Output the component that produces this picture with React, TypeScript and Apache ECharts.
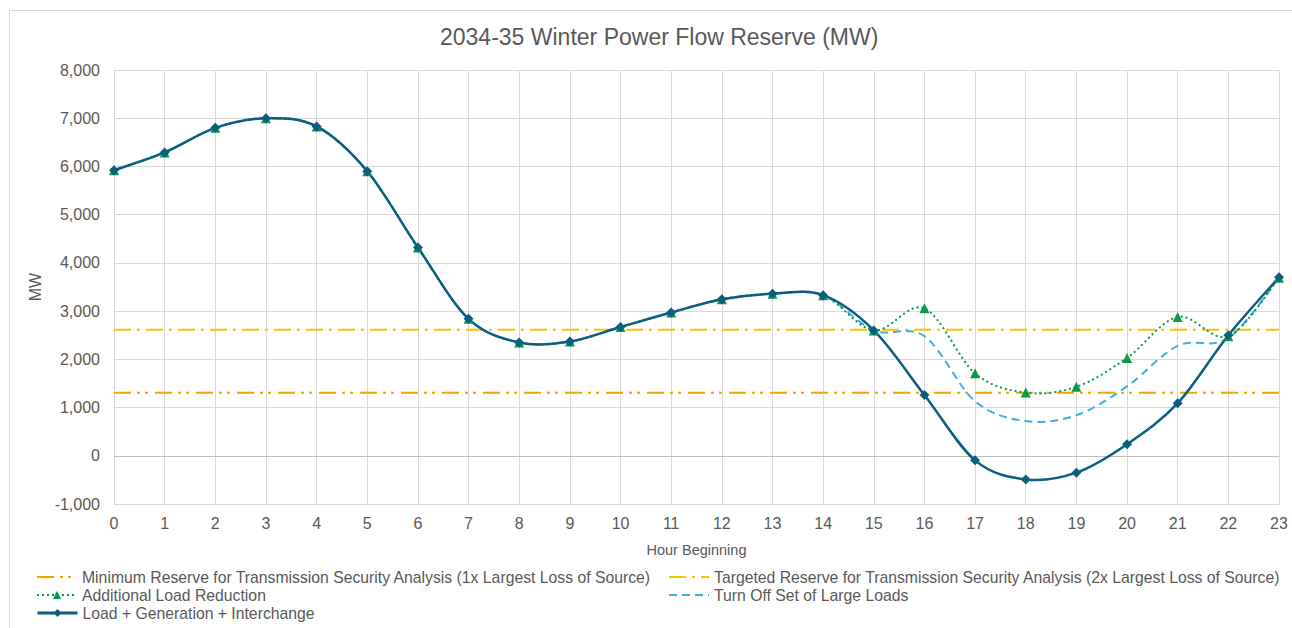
import React, { useEffect, useRef } from "react";
import * as echarts from "echarts";

const hours = [0,1,2,3,4,5,6,7,8,9,10,11,12,13,14,15,16,17,18,19,20,21,22,23];
const loadGenInterchange = [5920,6290,6800,7000,6830,5900,4320,2840,2350,2370,2670,2970,3245,3360,3330,2600,1260,-95,-490,-350,240,1090,2500,3700];
const additionalLoadReduction = [5920,6290,6800,7000,6830,5900,4320,2840,2350,2370,2670,2970,3245,3360,3330,2600,3060,1710,1310,1430,2030,2880,2480,3690];
const turnOffLargeLoads = [5920,6290,6800,7000,6830,5900,4320,2840,2350,2370,2670,2970,3245,3360,3330,2600,2480,1130,720,840,1440,2280,2440,3690];
const minReserve = 1307;
const targetReserve = 2614;
const yTicks = { min: -1000, max: 8000, interval: 1000 };

const NAMES = {
  min: "Minimum Reserve for Transmission Security Analysis (1x Largest Loss of Source)",
  target: "Targeted Reserve for Transmission Security Analysis (2x Largest Loss of Source)",
  alr: "Additional Load Reduction",
  turn: "Turn Off Set of Large Loads",
  main: "Load + Generation + Interchange",
};

const COLORS = {
  main: "#0B5E80",
  green: "#0A9A4A",
  blue: "#3DB0E3",
  min: "#F2A500",
  target: "#FFC000",
};

const DASH = {
  min: [17, 6, 3, 5, 3, 7],
  target: [17, 6, 3, 6],
  green: [2, 3],
  blue: [8, 5],
};

const FONT = "'Liberation Sans', Arial, sans-serif";

export default function App() {
  const ref = useRef<HTMLDivElement>(null);
  useEffect(() => {
    document.body.style.margin = "0";
    const chart = echarts.init(ref.current!, null, { renderer: "svg" });
    const pts = (arr: number[]) => hours.map((h, i) => [h, arr[i]]);
    const legendText = { fontFamily: FONT, fontSize: 15.75, color: "#595959" };
    const mkLegend = (item: any, left: number, top: number) => ({
      data: [item],
      left,
      top,
      padding: 0,
      itemWidth: 40,
      itemHeight: 10,
      itemGap: 4,
      textStyle: legendText,
      selectedMode: false,
    });

    // Smooth curve (spreadsheet-style smoothed line) drawn through the axis coordinates
    const curveSeries = (name: string, arr: number[], color: string, width: number, dash: number[] | null, z: number) => ({
      name,
      type: "custom",
      data: pts(arr),
      z,
      silent: true,
      clip: true,
      renderItem: (params: any, api: any) => {
        if (params.dataIndex !== 0) return null;
        const P = hours.map((h, i) => api.coord([h, arr[i]]));
        const n = P.length;
        const g = (i: number) => P[Math.max(0, Math.min(n - 1, i))];
        let d = `M${P[0][0]},${P[0][1]}`;
        for (let i = 0; i < n - 1; i++) {
          const p0 = g(i - 1), p1 = g(i), p2 = g(i + 1), p3 = g(i + 2);
          const c1x = p1[0] + (p2[0] - p0[0]) / 6;
          const c1y = p1[1] + (p2[1] - p0[1]) / 6;
          const c2x = p2[0] - (p3[0] - p1[0]) / 6;
          const c2y = p2[1] - (p3[1] - p1[1]) / 6;
          d += ` C${c1x},${c1y} ${c2x},${c2y} ${p2[0]},${p2[1]}`;
        }
        return {
          type: "path",
          shape: { pathData: d },
          style: { fill: "none", stroke: color, lineWidth: width, lineDash: dash || undefined },
        };
      },
    });

    chart.setOption({
      animation: false,
      backgroundColor: "#ffffff",
      graphic: [
        {
          type: "rect",
          shape: { x: 9.5, y: 10.5, width: 1300, height: 640 },
          style: { fill: "none", stroke: "#d9d9d9", lineWidth: 1 },
          silent: true,
        },
      ],
      title: {
        text: "2034-35 Winter Power Flow Reserve (MW)",
        left: 435,
        top: 20,
        textStyle: { fontFamily: FONT, fontSize: 23, fontWeight: "normal", color: "#595959" },
      },
      legend: [
        mkLegend({ name: NAMES.min, itemStyle: { opacity: 0 } }, 36, 569),
        mkLegend({ name: NAMES.target, itemStyle: { opacity: 0 } }, 668, 569),
        mkLegend({ name: NAMES.alr, lineStyle: { color: COLORS.green, width: 2, type: DASH.green, opacity: 1 } }, 36, 587),
        mkLegend({ name: NAMES.turn, itemStyle: { opacity: 0 }, lineStyle: { color: COLORS.blue, width: 2, type: DASH.blue, opacity: 1 } }, 668, 587),
        mkLegend({ name: NAMES.main, lineStyle: { color: COLORS.main, width: 3, type: "solid", opacity: 1 } }, 36, 605),
      ],
      grid: { left: 114, right: 13, top: 70, bottom: 124, containLabel: false },
      xAxis: {
        type: "value",
        min: 0,
        max: 23,
        interval: 1,
        name: "Hour Beginning",
        nameLocation: "middle",
        nameGap: 38,
        nameTextStyle: { fontFamily: FONT, fontSize: 14.5, color: "#595959" },
        axisLine: { onZero: false, lineStyle: { color: "#d9d9d9" } },
        axisTick: { show: false },
        axisLabel: { fontFamily: FONT, fontSize: 16, color: "#595959", margin: 11 },
        splitLine: { show: true, lineStyle: { color: "#d9d9d9", width: 1 } },
      },
      yAxis: {
        type: "value",
        min: yTicks.min,
        max: yTicks.max,
        interval: yTicks.interval,
        name: "MW",
        nameLocation: "middle",
        nameGap: 71,
        nameTextStyle: { fontFamily: FONT, fontSize: 16, color: "#595959" },
        axisLine: { show: true, lineStyle: { color: "#d9d9d9" } },
        axisTick: { show: false },
        axisLabel: {
          fontFamily: FONT,
          fontSize: 16,
          color: "#595959",
          margin: 14,
          formatter: (v: number) => v.toLocaleString("en-US"),
        },
        splitLine: { show: true, lineStyle: { color: "#d9d9d9", width: 1 } },
      },
      series: [
        {
          name: NAMES.min,
          type: "line",
          data: pts(hours.map(() => minReserve)),
          symbol: "none",
          lineStyle: { color: COLORS.min, width: 2, type: DASH.min },
          itemStyle: { color: COLORS.min },
          z: 2,
        },
        {
          name: NAMES.target,
          type: "line",
          data: pts(hours.map(() => targetReserve)),
          symbol: "none",
          lineStyle: { color: COLORS.target, width: 2, type: DASH.target },
          itemStyle: { color: COLORS.target },
          z: 2,
        },
        curveSeries("turnCurve", turnOffLargeLoads, COLORS.blue, 2, DASH.blue, 3),
        curveSeries("alrCurve", additionalLoadReduction, COLORS.green, 2, DASH.green, 4),
        curveSeries("mainCurve", loadGenInterchange, COLORS.main, 2.5, null, 5),
        {
          name: NAMES.turn,
          type: "line",
          data: pts(turnOffLargeLoads),
          symbol: "none",
          lineStyle: { color: COLORS.blue, width: 2, type: DASH.blue, opacity: 0 },
          itemStyle: { color: COLORS.blue },
          z: 3,
        },
        {
          name: NAMES.alr,
          type: "line",
          data: pts(additionalLoadReduction),
          symbol: "triangle",
          symbolSize: 10,
          showAllSymbol: true,
          lineStyle: { color: COLORS.green, width: 2, type: DASH.green, opacity: 0 },
          itemStyle: { color: COLORS.green },
          z: 6,
        },
        {
          name: NAMES.main,
          type: "line",
          data: pts(loadGenInterchange),
          symbol: "diamond",
          symbolSize: 10,
          showAllSymbol: true,
          lineStyle: { color: COLORS.main, width: 2.5, opacity: 0 },
          itemStyle: { color: COLORS.main },
          z: 7,
          markLine: {
            silent: true,
            symbol: "none",
            label: { show: false },
            lineStyle: { color: "#bfbfbf", type: "solid", width: 1, opacity: 1 },
            data: [{ yAxis: 0 }],
            z: 1,
          },
        },
      ],
    });
    return () => chart.dispose();
  }, []);
  return <div ref={ref} style={{ width: 1292, height: 628 }} />;
}
